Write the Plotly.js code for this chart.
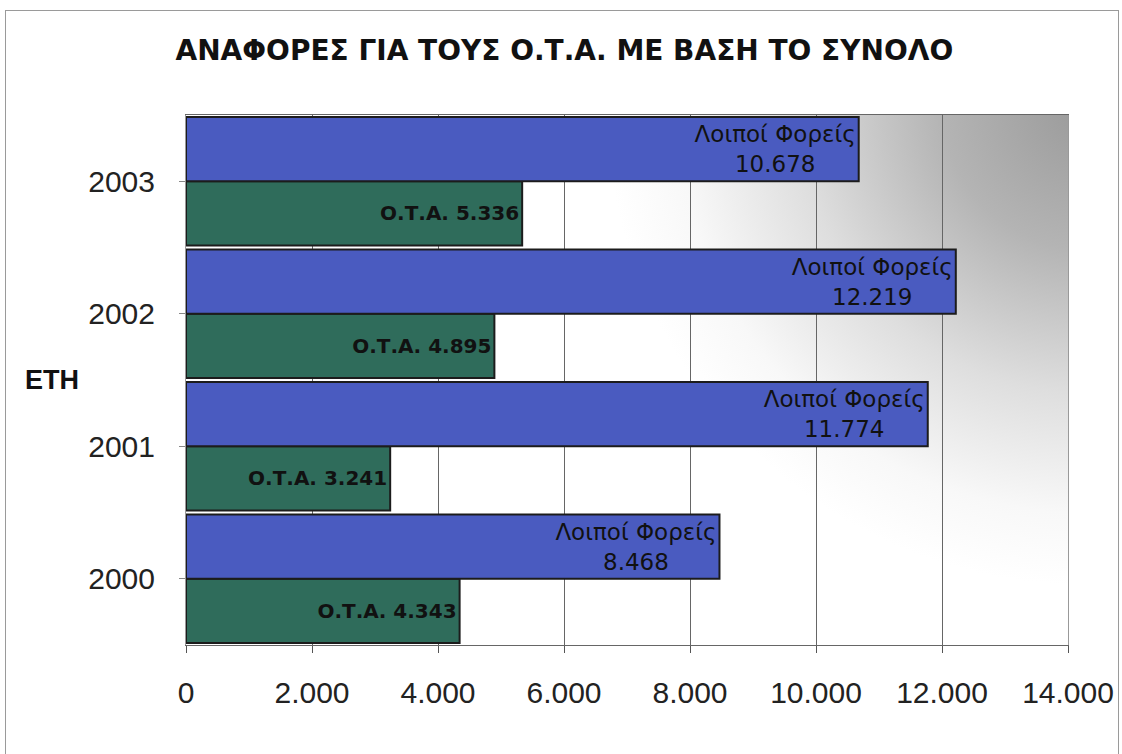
<!DOCTYPE html>
<html>
<head>
<meta charset="utf-8">
<script src="https://cdn.plot.ly/plotly-3.0.1.min.js"></script>
<style>
html,body{margin:0;padding:0;background:#fff;}
#frame{position:absolute;left:5px;top:10px;width:1114px;height:760px;border:1px solid #9a9a9a;box-sizing:border-box;}
#chart{position:absolute;left:0;top:0;width:1122px;height:754px;}
</style>
</head>
<body>
<div id="frame"></div>
<div id="chart"></div>
<script>
const years = ['2000', '2001', '2002', '2003'];
const otaValues = [4343, 3241, 4895, 5336];
const otherValues = [8468, 11774, 12219, 10678];
const otaName = 'Ο.Τ.Α.';
const otherName = 'Λοιποί Φορείς';
const xTicks = [0, 2000, 4000, 6000, 8000, 10000, 12000, 14000];

const bgSvg = '<svg xmlns="http://www.w3.org/2000/svg" width="882" height="530" viewBox="0 0 882 530">' +
  '<defs><radialGradient id="g" gradientUnits="userSpaceOnUse" cx="900" cy="-10" r="480">' +
  '<stop offset="0" stop-color="#9a9a9a"/><stop offset="0.3" stop-color="#b4b4b4"/><stop offset="0.6" stop-color="#dedede"/><stop offset="0.85" stop-color="#f8f8f8"/><stop offset="1" stop-color="#ffffff"/></radialGradient></defs>' +
  '<rect width="882" height="530" fill="#ffffff"/><rect width="882" height="530" fill="url(#g)"/></svg>';
const bgUri = 'data:image/svg+xml;base64,' + btoa(bgSvg);

const traces = [
  {
    type: 'bar', orientation: 'h', name: otaName,
    y: years, x: otaValues,
    marker: {color: '#2f6c5b', line: {color: '#1c1c1c', width: 2}},
    texttemplate: otaName + ' %{x:,}',
    textposition: 'inside', insidetextanchor: 'end',
    textfont: {family: 'DejaVu Sans, Verdana, sans-serif', size: 20, color: '#111', weight: 'bold'},
    hoverinfo: 'x+y'
  },
  {
    type: 'bar', orientation: 'h', name: otherName,
    y: years, x: otherValues,
    marker: {color: '#4a5bc0', line: {color: '#1c1c1c', width: 2}},
    texttemplate: otherName + '<br>%{x:,}',
    textposition: 'inside', insidetextanchor: 'end',
    textfont: {family: 'DejaVu Sans, Verdana, sans-serif', size: 23, color: '#111'},
    hoverinfo: 'x+y'
  }
];

const layout = {
  width: 1122, height: 754,
  paper_bgcolor: 'rgba(0,0,0,0)',
  plot_bgcolor: 'rgba(0,0,0,0)',
  separators: ',.',
  margin: {l: 186, r: 54, t: 115, b: 109},
  showlegend: false,
  barmode: 'group', bargap: 0.03, bargroupgap: 0,
  title: {
    text: '<b>ΑΝΑΦΟΡΕΣ ΓΙΑ ΤΟΥΣ Ο.Τ.Α. ΜΕ ΒΑΣΗ ΤΟ ΣΥΝΟΛΟ</b>',
    font: {family: 'DejaVu Sans, Verdana, sans-serif', size: 28, color: '#111'},
    x: 0.503, xanchor: 'center', y: 0.933, yanchor: 'middle'
  },
  xaxis: {
    range: [0, 14000], tickvals: xTicks, tickformat: ',d',
    showgrid: true, gridcolor: '#666', gridwidth: 1,
    zeroline: false, showline: true, linecolor: '#666', mirror: true,
    ticks: 'outside', ticklen: 7, tickcolor: '#555',
    ticklabelstandoff: 14,
    tickfont: {family: 'Arial, Liberation Sans, sans-serif', size: 30, color: '#222'}
  },
  yaxis: {
    categoryorder: 'array', categoryarray: years,
    showgrid: false, zeroline: false, showline: true, linecolor: '#999', mirror: true,
    ticks: 'outside', tickson: 'boundaries', ticklen: 6, tickcolor: '#888',
    ticklabelstandoff: 18,
    tickfont: {family: 'Arial, Liberation Sans, sans-serif', size: 30, color: '#222'}
  },
  annotations: [{
    text: '<b>ΕΤΗ</b>', xref: 'paper', yref: 'paper', x: -0.152, y: 0.50,
    xanchor: 'center', yanchor: 'middle', showarrow: false,
    font: {family: 'Arial, Liberation Sans, sans-serif', size: 27, color: '#111'}
  }],
  images: [{
    source: bgUri, xref: 'paper', yref: 'paper', x: 0, y: 1,
    sizex: 1, sizey: 1, sizing: 'stretch', layer: 'below', xanchor: 'left', yanchor: 'top'
  }]
};

Plotly.newPlot('chart', traces, layout, {displayModeBar: false, staticPlot: true});
</script>
</body>
</html>
